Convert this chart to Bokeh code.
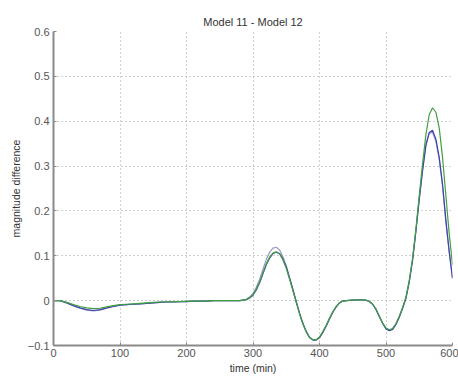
from bokeh.plotting import figure
from bokeh.embed import file_html
from bokeh.resources import INLINE
from bokeh.models import Range1d, FixedTicker

t = [0, 10, 20, 30, 40, 50, 60, 70, 80, 90, 100, 110, 120, 130, 140, 150, 160, 170, 180, 190,
     200, 210, 220, 230, 240, 250, 260, 270, 280, 285, 290, 295, 300, 305, 310, 315, 320, 325,
     330, 335, 340, 345, 350, 355, 360, 365, 370, 375, 380, 385, 390, 395, 400, 405, 410, 415,
     420, 425, 430, 435, 440, 450, 460, 470, 475, 480, 485, 490, 495, 500, 505, 510, 515, 520,
     525, 530, 535, 540, 545, 550, 555, 560, 565, 570, 575, 580, 585, 590, 595, 600]

green = [0, 0, -0.004, -0.009, -0.013, -0.016, -0.018, -0.017, -0.014, -0.011, -0.009, -0.008,
         -0.007, -0.006, -0.005, -0.004, -0.003, -0.003, -0.002, -0.002, -0.001, -0.001, -0.001,
         -0.001, 0, 0, 0, 0, 0, 0.001, 0.003, 0.007, 0.014, 0.026, 0.042, 0.062, 0.082, 0.097,
         0.106, 0.109, 0.104, 0.091, 0.072, 0.048, 0.022, -0.004, -0.03, -0.052, -0.07, -0.082,
         -0.087, -0.087, -0.081, -0.069, -0.055, -0.039, -0.025, -0.013, -0.005, -0.001, 0,
         0.001, 0.002, 0.001, -0.002, -0.008, -0.019, -0.035, -0.05, -0.061, -0.065, -0.062,
         -0.051, -0.035, -0.015, 0.008, 0.045, 0.095, 0.16, 0.235, 0.305, 0.37, 0.415, 0.43,
         0.42, 0.385, 0.32, 0.235, 0.15, 0.08]

blue = [0, 0, -0.005, -0.011, -0.016, -0.020, -0.022, -0.020, -0.016, -0.013, -0.010, -0.009,
        -0.008, -0.007, -0.006, -0.005, -0.004, -0.003, -0.003, -0.002, -0.002, -0.001, -0.001,
        -0.001, 0, 0, 0, 0, 0, 0.001, 0.002, 0.006, 0.012, 0.024, 0.04, 0.06, 0.08, 0.095,
        0.105, 0.108, 0.105, 0.093, 0.075, 0.05, 0.025, -0.002, -0.028, -0.051, -0.069, -0.082,
        -0.088, -0.088, -0.083, -0.071, -0.057, -0.041, -0.026, -0.014, -0.005, -0.001, 0,
        0.001, 0.002, 0.001, -0.002, -0.008, -0.02, -0.036, -0.051, -0.063, -0.067, -0.064,
        -0.053, -0.037, -0.017, 0.005, 0.042, 0.09, 0.155, 0.225, 0.29, 0.345, 0.375, 0.38,
        0.36, 0.32, 0.26, 0.18, 0.11, 0.05]

light = [0, 0, -0.005, -0.012, -0.017, -0.021, -0.023, -0.021, -0.017, -0.013, -0.010, -0.009,
         -0.008, -0.007, -0.006, -0.005, -0.004, -0.003, -0.003, -0.002, -0.002, -0.001, -0.001,
         -0.001, 0, 0, 0, 0, 0, 0.001, 0.003, 0.008, 0.016, 0.03, 0.048, 0.07, 0.092, 0.108,
         0.117, 0.119, 0.113, 0.098, 0.078, 0.052, 0.025, -0.002, -0.028, -0.05, -0.068, -0.081,
         -0.087, -0.087, -0.082, -0.07, -0.056, -0.04, -0.026, -0.014, -0.005, -0.001, 0,
         0.001, 0.002, 0.001, -0.002, -0.008, -0.019, -0.035, -0.05, -0.062, -0.066, -0.063,
         -0.052, -0.036, -0.016, 0.006, 0.043, 0.092, 0.157, 0.228, 0.292, 0.35, 0.373, 0.375,
         0.355, 0.315, 0.255, 0.175, 0.108, 0.05]

x_ticks = [0, 100, 200, 300, 400, 500, 600]
y_ticks = [-0.1, 0, 0.1, 0.2, 0.3, 0.4, 0.5, 0.6]

p = figure(width=458, height=378, output_backend="svg", toolbar_location=None,
           x_range=Range1d(0, 600), y_range=Range1d(-0.1, 0.6),
           min_border_left=53, min_border_right=6, min_border_top=31, min_border_bottom=33)

p.title.text = "Model 11 - Model 12"
p.title.align = "center"
p.title.text_font = "Liberation Sans"
p.title.text_font_size = "11px"
p.title.text_font_style = "normal"
p.title.text_color = "#333333"
p.title.standoff = 7

p.line(t, light, color="#9a9ac8", line_width=1.2)
p.line(t, blue, color="#4040b0", line_width=1.2)
p.line(t, green, color="#40a040", line_width=1.2)

for ax in (p.xaxis[0], p.yaxis[0]):
    ax.axis_line_color = "#8a8a8a"
    ax.axis_line_width = 2
    ax.major_tick_line_color = "#8a8a8a"
    ax.major_tick_in = 3
    ax.major_tick_out = 0
    ax.minor_tick_line_color = None
    ax.major_label_text_font = "Liberation Sans"
    ax.major_label_text_font_size = "11px"
    ax.major_label_text_color = "#555555"
    ax.axis_label_text_font = "Liberation Sans"
    ax.axis_label_text_font_size = "10.5px"
    ax.axis_label_text_font_style = "normal"
    ax.axis_label_text_color = "#333333"

p.xaxis.ticker = FixedTicker(ticks=x_ticks)
p.yaxis.ticker = FixedTicker(ticks=y_ticks)
p.xaxis.axis_label = "time (min)"
p.yaxis.axis_label = "magnitude difference"
p.xaxis.major_label_standoff = 3
p.yaxis.major_label_standoff = 4
p.xaxis.axis_label_standoff = 2
p.yaxis.axis_label_standoff = 3

p.xgrid.grid_line_color = "#a0a0a0"
p.ygrid.grid_line_color = "#a0a0a0"
p.xgrid.grid_line_dash = "1 3"
p.ygrid.grid_line_dash = "1 3"
p.outline_line_color = None

open("out.html", "w").write(file_html(p, INLINE))
